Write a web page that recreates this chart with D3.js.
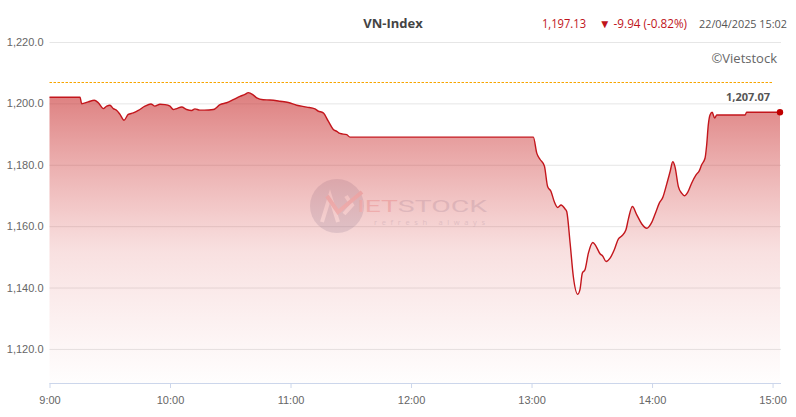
<!DOCTYPE html>
<html>
<head>
<meta charset="utf-8">
<script src="https://cdn.jsdelivr.net/npm/d3@7/dist/d3.min.js"></script>
<style>
  html, body { margin: 0; padding: 0; background: #fff; }
  svg { display: block; font-family: "Open Sans", "Noto Sans", sans-serif; }
</style>
</head>
<body>
<svg id="chart" width="796" height="417"></svg>
<script>
// ---- data ----
const minutesFromOpen = [0, 15.2, 16.0, 19.3, 22.3, 24.3, 26.8, 28.5, 30.1, 31.8, 33.5, 35.1, 37.1, 39.2, 41.7, 44.2, 47.5, 50.5, 52.5, 55.0, 57.5, 60.0, 61.6, 63.3, 65.8, 68.3, 70.8, 72.4, 74.9, 77.1, 81.6, 84.9, 88.2, 91.5, 94.8, 97.3, 99.0, 101.5, 103.2, 106.4, 109.8, 114.8, 118.9, 123.1, 128.1, 132.2, 133.8, 136.3, 138.8, 141.3, 143.0, 144.6, 148.0, 149.6, 240.9, 242.6, 244.2, 246.4, 248.0, 249.7, 251.3, 253.0, 254.7, 256.7, 257.5, 259.2, 260.8, 263.0, 264.1, 265.3, 266.6, 268.3, 270.5, 272.0, 274.1, 275.4, 277.1, 279.1, 281.2, 283.2, 284.9, 287.0, 288.2, 290.2, 292.4, 294.9, 297.4, 299.9, 302.0, 303.6, 305.3, 307.3, 309.0, 310.3, 311.4, 313.1, 314.8, 316.1, 317.8, 319.7, 321.9, 323.5, 324.7, 326.4, 327.2, 328.0, 328.9, 329.9, 331.2, 332.2, 346.3, 347.1, 363.7];
const indexValues = [1202.0, 1202.0, 1199.9, 1200.5, 1201.0, 1200.2, 1198.3, 1199.1, 1199.4, 1198.3, 1197.7, 1196.4, 1194.5, 1196.4, 1196.9, 1197.7, 1199.1, 1199.8, 1199.1, 1199.7, 1199.6, 1199.1, 1198.0, 1198.3, 1198.8, 1198.0, 1197.7, 1198.2, 1197.8, 1197.8, 1198.0, 1199.6, 1200.2, 1201.2, 1202.3, 1202.9, 1203.5, 1202.7, 1201.8, 1201.2, 1201.1, 1200.7, 1200.3, 1199.4, 1198.8, 1198.2, 1197.5, 1196.9, 1194.2, 1191.5, 1190.9, 1190.2, 1189.8, 1189.0, 1189.0, 1183.8, 1181.8, 1179.6, 1172.9, 1171.3, 1168.0, 1166.1, 1166.9, 1165.6, 1164.8, 1154.5, 1143.6, 1137.8, 1139.3, 1144.7, 1145.8, 1151.2, 1154.7, 1153.6, 1151.0, 1150.3, 1148.5, 1149.6, 1152.3, 1155.8, 1156.8, 1158.8, 1162.3, 1166.4, 1163.7, 1160.7, 1159.3, 1161.3, 1164.8, 1167.5, 1169.3, 1173.7, 1177.8, 1181.0, 1179.4, 1172.9, 1170.7, 1169.9, 1171.1, 1174.0, 1176.7, 1178.0, 1180.0, 1182.2, 1186.5, 1193.0, 1196.3, 1197.1, 1195.2, 1196.2, 1196.2, 1197.13, 1197.13];
const xTickValues = [0, 60, 120, 180, 240, 300, 360];
const xTickLabels = ["9:00", "10:00", "11:00", "12:00", "13:00", "14:00", "15:00"];
const yTickValues = [1120, 1140, 1160, 1180, 1200, 1220];
const referenceValue = 1207.07;
const titleText = "VN-Index";
const lastValueText = "1,197.13";
const changeText = "▼ -9.94 (-0.82%)";
const dateText = "22/04/2025 15:02";
const creditText = "©Vietstock";

// ---- layout ----
const svg = d3.select("#chart");
const plotLeft = 49.5, plotRight = 781, plotTop = 42, plotBottom = 383;
const x = d3.scaleLinear().domain([0, 364.2]).range([plotLeft, plotRight]);
const y = d3.scaleLinear().domain([1108.9, 1220]).range([plotBottom, plotTop]);
const data = minutesFromOpen.map((t, i) => ({ t, v: indexValues[i] }));

// gradient
const defs = svg.append("defs");
const grad = defs.append("linearGradient").attr("id", "areaGrad")
  .attr("gradientUnits", "userSpaceOnUse")
  .attr("x1", 0).attr("x2", 0).attr("y1", y(1204)).attr("y2", plotBottom);
grad.append("stop").attr("offset", "0%").attr("stop-color", "#c62828").attr("stop-opacity", 0.6);
grad.append("stop").attr("offset", "55%").attr("stop-color", "#d84a4a").attr("stop-opacity", 0.17);
grad.append("stop").attr("offset", "100%").attr("stop-color", "#e06060").attr("stop-opacity", 0.01);

// grid
const yAxis = d3.axisLeft(y).tickValues(yTickValues)
  .tickSize(-(plotRight - plotLeft)).tickFormat(d3.format(",.1f")).tickPadding(6);
const gy = svg.append("g").attr("transform", `translate(${plotLeft},0)`).call(yAxis);
gy.select(".domain").remove();
gy.selectAll(".tick line").attr("stroke", "#e6e6e6").attr("stroke-width", 1);
gy.selectAll(".tick text").attr("fill", "#666").attr("font-size", "11px");

// watermark
const wm = svg.append("g").attr("opacity", 0.22);
wm.append("circle").attr("cx", 337).attr("cy", 206).attr("r", 27).attr("fill", "#7d8aa8");
wm.append("path").attr("d", "M322,222 L330,196 L338,222 M344,214 L352,205 L346,196").attr("fill", "none")
  .attr("stroke", "#fff").attr("stroke-width", 4);
wm.append("path").attr("d", "M327,196 L338,212 L362,192").attr("fill", "none")
  .attr("stroke", "#e0484a").attr("stroke-width", 4);
const wt = wm.append("text").attr("x", 357).attr("y", 212).attr("font-size", "17px")
  .attr("font-family", "Roboto, sans-serif").attr("textLength", 130).attr("lengthAdjust", "spacingAndGlyphs");
wt.append("tspan").attr("fill", "#e0484a").text("IET");
wt.append("tspan").attr("fill", "#7d8aa8").text("STOCK");
wm.append("text").attr("x", 374).attr("y", 225).attr("font-size", "7.5px")
  .attr("textLength", 111).attr("fill", "#7d8aa8").text("refresh always");

// area + line
const area = d3.area().x(d => x(d.t)).y0(plotBottom).y1(d => y(d.v)).curve(d3.curveMonotoneX);
const line = d3.line().x(d => x(d.t)).y(d => y(d.v)).curve(d3.curveMonotoneX);
svg.append("path").datum(data).attr("d", area).attr("fill", "url(#areaGrad)");
svg.append("path").datum(data).attr("d", line).attr("fill", "none")
  .attr("stroke", "#c3161c").attr("stroke-width", 1.4);

// reference line
const refY = Math.round(y(referenceValue)) + 0.5;
svg.append("line").attr("x1", plotLeft).attr("x2", 773)
  .attr("y1", refY).attr("y2", refY)
  .attr("stroke", "#f7a500").attr("stroke-width", 1).attr("stroke-dasharray", "2.5,1.5");
svg.append("text").attr("x", 770).attr("y", refY + 18)
  .attr("text-anchor", "end").attr("font-size", "11px").attr("font-weight", "bold")
  .attr("fill", "#555").text(d3.format(",.2f")(referenceValue));

// last point
const last = data[data.length - 1];
svg.append("circle").attr("cx", x(last.t)).attr("cy", y(last.v)).attr("r", 3.2).attr("fill", "#c00000");

// x axis
const xAxis = d3.axisBottom(x).tickValues(xTickValues)
  .tickFormat((d, i) => xTickLabels[i]).tickSize(5).tickPadding(8);
const gx = svg.append("g").attr("transform", `translate(0,${plotBottom})`).call(xAxis);
gx.select(".domain").attr("d", `M${plotLeft},0.5H${plotRight}`).attr("stroke", "#ccd6eb");
gx.selectAll(".tick line").attr("stroke", "#ccd6eb");
gx.selectAll(".tick text").attr("fill", "#666").attr("font-size", "11px");

// header
svg.append("text").attr("x", 393).attr("y", 28).attr("text-anchor", "middle")
  .attr("font-size", "13px").attr("font-weight", "bold").attr("fill", "#444").text(titleText);
svg.append("text").attr("x", 542).attr("y", 28).attr("font-size", "12px")
  .attr("textLength", 44).attr("lengthAdjust", "spacingAndGlyphs")
  .attr("fill", "#c0141b").text(lastValueText);
svg.append("text").attr("x", 599).attr("y", 28).attr("font-size", "12px")
  .attr("textLength", 88).attr("lengthAdjust", "spacingAndGlyphs")
  .attr("fill", "#c0141b").text(changeText);
svg.append("text").attr("x", 699).attr("y", 28).attr("font-size", "11px")
  .attr("textLength", 88).attr("lengthAdjust", "spacingAndGlyphs")
  .attr("fill", "#555").text(dateText);
svg.append("text").attr("x", 777).attr("y", 63).attr("text-anchor", "end")
  .attr("font-size", "13px").attr("fill", "#666").text(creditText);
</script>
</body>
</html>
